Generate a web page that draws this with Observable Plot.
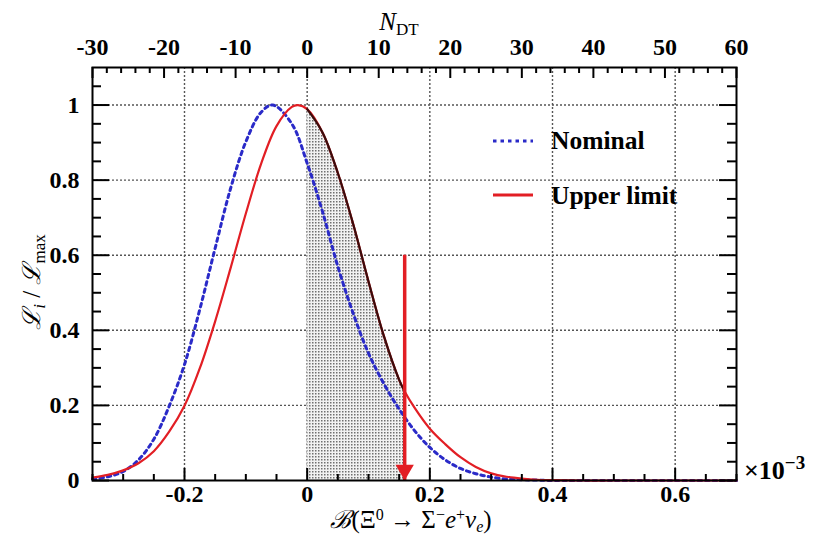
<!DOCTYPE html>
<html><head><meta charset="utf-8">
<script src="https://cdn.jsdelivr.net/npm/d3@7"></script>
<script src="https://cdn.jsdelivr.net/npm/@observablehq/plot@0.6"></script>
<style>
html,body{margin:0;padding:0;background:#fff;}
#chart{width:813px;height:537px;}
</style></head><body><div id="chart"></div>
<script>
// ---- data, x in units of 1e-3 ----
const redX = [-0.35,-0.325,-0.3,-0.275,-0.25,-0.225,-0.2,-0.175,-0.15,-0.125,-0.1,-0.075,-0.05,-0.025,-0.015,0,0.025,0.05,0.075,0.1,0.125,0.15,0.159,0.175,0.2,0.225,0.25,0.275,0.3,0.325,0.35,0.375,0.4,0.45,0.5,0.6,0.7];
const redY = [0.008,0.015,0.027,0.046,0.078,0.13,0.199,0.299,0.424,0.565,0.711,0.844,0.944,0.995,1.0,0.989,0.927,0.819,0.683,0.53,0.385,0.268,0.237,0.194,0.138,0.097,0.062,0.036,0.019,0.01,0.005,0.002,0.001,0,0,0,0];
const blueX = [-0.35,-0.325,-0.3,-0.275,-0.25,-0.225,-0.2,-0.175,-0.15,-0.125,-0.1,-0.075,-0.056,-0.025,0,0.025,0.05,0.075,0.1,0.125,0.15,0.175,0.2,0.225,0.25,0.275,0.3,0.325,0.35,0.375,0.4,0.5,0.6,0.7];
const blueY = [0.004,0.01,0.024,0.055,0.11,0.198,0.309,0.456,0.619,0.777,0.902,0.981,1.0,0.95,0.845,0.716,0.57,0.445,0.339,0.258,0.19,0.133,0.088,0.055,0.032,0.018,0.009,0.004,0.002,0.001,0,0,0,0];
const limitX = 0.159;      // upper limit (arrow position)
const arrowTop = 0.6;
const shadeStart = 0;

const xMajor = [-0.2,0,0.2,0.4,0.6];
const xTickLabels = ["-0.2","0","0.2","0.4","0.6"];
const xMinor = [-0.35,-0.3,-0.25,-0.15,-0.1,-0.05,0.05,0.1,0.15,0.25,0.3,0.35,0.45,0.5,0.55,0.65,0.7];
const yMajor = [0,0.2,0.4,0.6,0.8,1];
const yTickLabels = ["0","0.2","0.4","0.6","0.8","1"];
const yMinor = [0.05,0.1,0.15,0.25,0.3,0.35,0.45,0.5,0.55,0.65,0.7,0.75,0.85,0.9,0.95,1.05];
const nMajor = [-30,-20,-10,0,10,20,30,40,50,60];
const nTickLabels = ["-30","-20","-10","0","10","20","30","40","50","60"];
const nMinor = [-28,-26,-24,-22,-18,-16,-14,-12,-8,-6,-4,-2,2,4,6,8,12,14,16,18,22,24,26,28,32,34,36,38,42,44,46,48,52,54,56,58];
const nPerUnit = 30/0.35; // N_DT per 1e-3 of branching fraction

const red = redX.map((x,i)=>({x, y: redY[i]}));
const blue = blueX.map((x,i)=>({x, y: blueY[i]}));
const shade = red.filter(d => d.x >= shadeStart && d.x <= limitX);

const W = 813, H = 537, mL = 92, mR = 77, mT = 67, mB = 57;
const iW = W - mL - mR, iH = H - mT - mB;
const RED = "#e21e24", BLUE = "#2a2ac8";
const serif = "'Liberation Serif','Times New Roman',serif";
const curve = "catmull-rom";

const plot = Plot.plot({
  width: W, height: H,
  marginLeft: mL, marginRight: mR, marginTop: mT, marginBottom: mB,
  x: {domain: [-0.35, 0.7], axis: null},
  y: {domain: [0, 1.1], axis: null},
  style: {background: "#fff"},
  marks: [
    Plot.ruleX(xMajor, {x: d=>d, stroke: "#555", strokeWidth: 1.4, strokeDasharray: "2,2"}),
    Plot.ruleY(yMajor.filter(d=>d>0), {y: d=>d, stroke: "#555", strokeWidth: 1.4, strokeDasharray: "2,2"}),
    Plot.areaY(shade, {x: "x", y: "y", fill: "#bbbbbb", curve, ariaDescription: "shade"}),
    Plot.line(blue, {x: "x", y: "y", stroke: BLUE, strokeWidth: 3, strokeDasharray: "3.5,4", curve}),
    Plot.line(red, {x: "x", y: "y", stroke: RED, strokeWidth: 2.2, curve}),
    Plot.line(shade, {x: "x", y: "y", stroke: "#3a0c0c", strokeWidth: 2.2, curve}),
    Plot.ruleX([limitX], {x: d=>d, y1: 0, y2: arrowTop, stroke: RED, strokeWidth: 3.5}),
    Plot.dot([limitX], {x: d=>d, y: () => 0, symbol: "triangle", r: 6.8, rotate: 180, fill: RED, stroke: "none", dy: -10.5}),
    // ticks (inside the frame)
    Plot.tickX(xMinor, {x: d=>d, insetTop: iH - 6, strokeWidth: 2}),
    Plot.tickX(xMajor, {x: d=>d, insetTop: iH - 12, strokeWidth: 2}),
    Plot.tickX(nMinor, {x: d=>d/nPerUnit, insetBottom: iH - 6, strokeWidth: 2}),
    Plot.tickX(nMajor, {x: d=>d/nPerUnit, insetBottom: iH - 11, strokeWidth: 2}),
    Plot.tickY(yMinor, {y: d=>d, insetRight: iW - 9, strokeWidth: 2}),
    Plot.tickY(yMajor, {y: d=>d, insetRight: iW - 17, strokeWidth: 2}),
    Plot.tickY(yMinor, {y: d=>d, insetLeft: iW - 9, strokeWidth: 2}),
    Plot.tickY(yMajor, {y: d=>d, insetLeft: iW - 17, strokeWidth: 2}),
    Plot.frame({stroke: "#000", strokeWidth: 2}),
    // tick labels
    Plot.text(xMajor, {x: d=>d, text: (d,i)=>xTickLabels[i], frameAnchor: "bottom", dy: 14, lineAnchor: "middle",
      fontFamily: serif, fontWeight: "bold", fontSize: 24, fill: "#000"}),
    Plot.text(nMajor, {x: d=>d/nPerUnit, text: (d,i)=>nTickLabels[i], frameAnchor: "top", dy: -20, lineAnchor: "middle",
      fontFamily: serif, fontWeight: "bold", fontSize: 24, fill: "#000"}),
    Plot.text(yMajor, {y: d=>d, text: (d,i)=>yTickLabels[i], frameAnchor: "left", dx: -13, textAnchor: "end", lineAnchor: "middle",
      fontFamily: serif, fontWeight: "bold", fontSize: 24, fill: "#000"})
  ]
});

const svg = d3.select(plot);
// dotted fill pattern for the shaded interval
const pat = svg.insert("defs", "g").append("pattern")
  .attr("id", "dotsfill").attr("width", 3).attr("height", 3).attr("patternUnits", "userSpaceOnUse");
pat.append("rect").attr("width", 3).attr("height", 3).attr("fill", "#f2f2f2");
pat.append("rect").attr("x", 0).attr("y", 0).attr("width", 1.5).attr("height", 1.5).attr("fill", "#707070");
svg.selectAll('[aria-description="shade"], [aria-description="shade"] path, g[fill="#bbbbbb"], g[fill="#bbbbbb"] path')
  .attr("fill", "url(#dotsfill)");

const T = (x, y, opts={}) => svg.append("text").attr("x", x).attr("y", y)
  .attr("font-family", serif).attr("font-size", opts.size || 24).attr("font-weight", opts.weight || "normal")
  .attr("text-anchor", opts.anchor || "start").attr("fill", "#000");

// ×10^-3
{
  const t = T(744, 479, {weight: "bold", size: 26});
  t.append("tspan").text("×10");
  t.append("tspan").attr("dy", -10).attr("font-size", 19).text("−3");
}
// top axis title N_DT
{
  const t = T(399, 30, {anchor: "middle", size: 25});
  t.append("tspan").attr("font-style", "italic").text("N");
  t.append("tspan").attr("dy", 5).attr("font-size", 17).text("DT");
}
// bottom axis title
{
  const t = T(411, 528, {anchor: "middle", size: 25});
  t.append("tspan").attr("font-style", "italic").text("ℬ");
  t.append("tspan").text("(Ξ");
  t.append("tspan").attr("dy", -8).attr("font-size", 16).text("0");
  t.append("tspan").attr("dy", 8).text(" → Σ");
  t.append("tspan").attr("dy", -8).attr("font-size", 16).text("−");
  t.append("tspan").attr("dy", 8).attr("font-style", "italic").text("e");
  t.append("tspan").attr("dy", -8).attr("font-size", 16).text("+");
  t.append("tspan").attr("dy", 8).attr("font-style", "italic").text("ν");
  t.append("tspan").attr("dy", 4).attr("font-size", 16).attr("font-style", "italic").text("e");
  t.append("tspan").attr("dy", -4).text(")");
}
// y axis title
{
  const t = svg.append("text").attr("transform", "translate(40,282) rotate(-90)")
    .attr("font-family", serif).attr("font-size", 25).attr("text-anchor", "middle").attr("fill", "#000");
  t.append("tspan").attr("font-style", "italic").text("ℒ");
  t.append("tspan").attr("dy", 5).attr("font-size", 17).attr("font-style", "italic").text("i");
  t.append("tspan").attr("dy", -5).text(" / ");
  t.append("tspan").attr("font-style", "italic").text("ℒ");
  t.append("tspan").attr("dy", 5).attr("font-size", 17).text("max");
}
// legend
{
  const g = svg.append("g");
  g.append("line").attr("x1", 493).attr("x2", 533).attr("y1", 141).attr("y2", 141)
    .attr("stroke", BLUE).attr("stroke-width", 3).attr("stroke-dasharray", "3.5,4");
  g.append("line").attr("x1", 493).attr("x2", 533).attr("y1", 195).attr("y2", 195)
    .attr("stroke", RED).attr("stroke-width", 3);
  T(551, 149, {weight: "bold", size: 25.5}).text("Nominal");
  T(551, 204, {weight: "bold", size: 25.5}).text("Upper limit");
}

document.getElementById("chart").appendChild(plot);
</script></body></html>
